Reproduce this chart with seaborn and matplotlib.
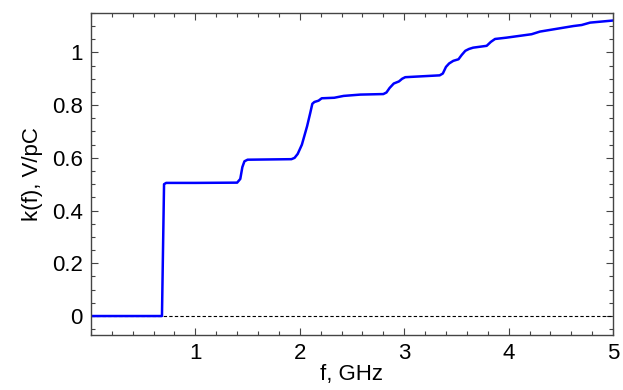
import numpy as np
import pandas as pd
import matplotlib
matplotlib.use("Agg")
import matplotlib.pyplot as plt
import seaborn as sns
from matplotlib.ticker import MultipleLocator

f_ghz = [0.0, 0.68, 0.70, 0.72, 1.0, 1.40, 1.43, 1.45, 1.47, 1.50, 1.92, 1.95, 1.98,
         2.02, 2.07, 2.10, 2.12, 2.14, 2.18, 2.21, 2.33, 2.42, 2.58, 2.80, 2.83,
         2.86, 2.90, 2.95, 2.98, 3.01, 3.34, 3.37, 3.40, 3.43, 3.47, 3.52, 3.55,
         3.585, 3.62, 3.66, 3.79, 3.83, 3.87, 3.98, 4.22, 4.30, 4.62, 4.70, 4.78, 5.0]
k_vpc = [0.0, 0.0, 0.500, 0.505, 0.505, 0.506, 0.52, 0.565, 0.587, 0.593, 0.595,
         0.60, 0.615, 0.65, 0.72, 0.77, 0.805, 0.812, 0.817, 0.826, 0.828, 0.835,
         0.84, 0.842, 0.848, 0.865, 0.882, 0.89, 0.90, 0.906, 0.913, 0.92, 0.945,
         0.958, 0.968, 0.974, 0.99, 1.006, 1.013, 1.018, 1.025, 1.04, 1.051, 1.056,
         1.069, 1.079, 1.10, 1.104, 1.113, 1.121]
x_ticks = [1, 2, 3, 4, 5]
y_ticks = [0, 0.2, 0.4, 0.6, 0.8, 1.0]
y_tick_labels = ["0", "0.2", "0.4", "0.6", "0.8", "1"]

sns.set_style("ticks")
plt.rcParams["font.family"] = ["Liberation Sans", "DejaVu Sans"]

df = pd.DataFrame({"f": f_ghz, "k": k_vpc})

fig = plt.figure(figsize=(6.23, 3.90), dpi=100)
ax = fig.add_axes([0.146, 0.141, 0.838, 0.826])

ax.axhline(0, color="black", lw=0.8, ls=(0, (3, 2)), zorder=1)
sns.lineplot(data=df, x="f", y="k", ax=ax, color="#0000ff", lw=1.8,
             sort=False, estimator=None, zorder=2)

ax.set_xlim(0, 5)
ax.set_ylim(-0.072, 1.15)
ax.set_xticks(x_ticks)
ax.set_yticks(y_ticks)
ax.set_yticklabels(y_tick_labels)
ax.xaxis.set_minor_locator(MultipleLocator(0.2))
ax.yaxis.set_minor_locator(MultipleLocator(0.05))
ax.tick_params(which="both", direction="in", top=True, right=True,
               color="#444444", width=0.8, labelcolor="black")
ax.tick_params(which="major", length=5, labelsize=16, pad=6)
ax.tick_params(which="minor", length=3)
for s in ax.spines.values():
    s.set_color("#444444")
    s.set_linewidth(1.0)

ax.set_xlabel("f, GHz", fontsize=16, labelpad=0, color="black")
ax.set_ylabel("k(f), V/pC", fontsize=16, labelpad=6, color="black")

fig.savefig("out.png", dpi=100)
